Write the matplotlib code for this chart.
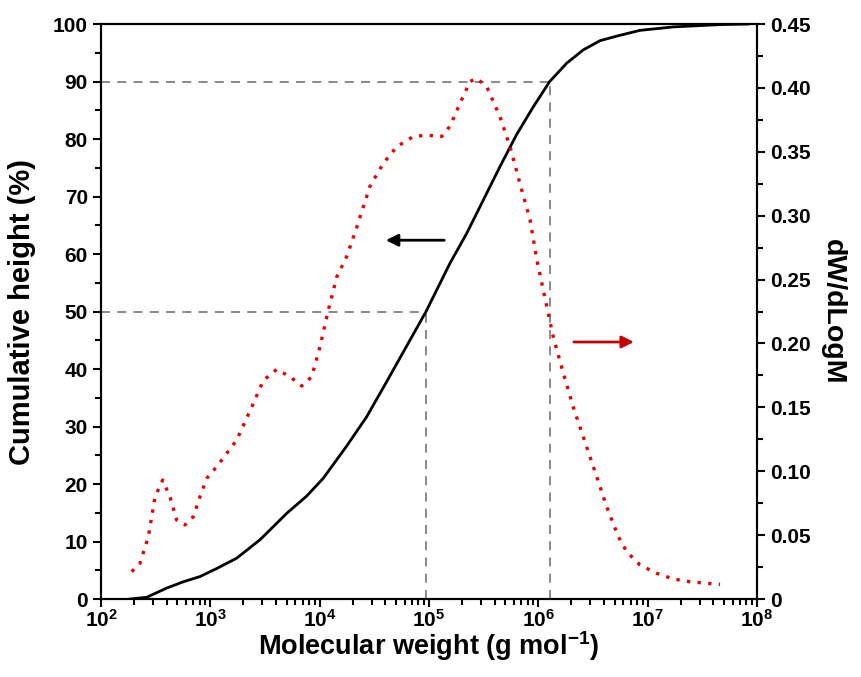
import numpy as np
import matplotlib
matplotlib.use("Agg")
import matplotlib.pyplot as plt
from matplotlib import ticker

plt.rcParams['font.family'] = ['Liberation Sans', 'DejaVu Sans']
plt.rcParams['font.weight'] = 'bold'
plt.rcParams['mathtext.fontset'] = 'custom'
plt.rcParams['mathtext.rm'] = 'Liberation Sans:bold'
plt.rcParams['mathtext.bf'] = 'Liberation Sans:bold'
plt.rcParams['mathtext.it'] = 'Liberation Sans:bold'

# cumulative curve (log10 M, %)
cum_logm = [2.265, 2.418, 2.601, 2.753, 2.905, 3.058, 3.241, 3.454, 3.699, 3.881,
            4.033, 4.247, 4.430, 4.613, 4.973, 5.192, 5.345, 5.497, 5.649, 5.802,
            5.954, 6.104, 6.260, 6.411, 6.564, 6.717, 6.93, 7.234, 7.66, 7.92]
cum_pct = [0, 0.3, 1.9, 3.0, 3.9, 5.3, 7.1, 10.3, 14.9, 17.9,
           21.0, 26.6, 31.7, 37.8, 50.0, 58.4, 63.6, 69.4, 75.2, 80.8,
           85.6, 90.0, 93.2, 95.5, 97.1, 97.9, 98.9, 99.5, 99.9, 100.0]

# distribution dW/dLogM (log10 M, value)
dist_logm = [2.281, 2.357, 2.433, 2.494, 2.564, 2.631, 2.692, 2.768, 2.844, 2.905,
             2.967, 3.058, 3.150, 3.241, 3.393, 3.484, 3.607, 3.729, 3.836, 3.927,
             4.003, 4.079, 4.156, 4.247, 4.339, 4.399, 4.460, 4.582, 4.705, 4.857,
             4.979, 5.116, 5.192, 5.284, 5.375, 5.436, 5.528, 5.649, 5.741, 5.832,
             5.924, 5.985, 6.077, 6.137, 6.229, 6.320, 6.442, 6.534, 6.625, 6.732,
             6.808, 6.930, 7.083, 7.234, 7.387, 7.540, 7.662]
dist_val = [0.0214, 0.028, 0.0488, 0.080, 0.0931, 0.080, 0.0618, 0.058, 0.0644, 0.080,
            0.0944, 0.1035, 0.114, 0.1244, 0.153, 0.171, 0.1797, 0.174, 0.1667, 0.174,
            0.1975, 0.226, 0.252, 0.268, 0.291, 0.307, 0.323, 0.341, 0.354, 0.362,
            0.363, 0.362, 0.370, 0.388, 0.405, 0.4075, 0.401, 0.3775, 0.354, 0.325,
            0.297, 0.266, 0.229, 0.205, 0.1766, 0.150, 0.119, 0.0957, 0.0722, 0.0488,
            0.037, 0.0266, 0.0201, 0.0157, 0.0135, 0.0123, 0.0115]

m50 = 9.4e4
m90 = 1.27e6

cum_m = 10 ** np.array(cum_logm)
dist_m = 10 ** np.array(dist_logm)

fig = plt.figure(figsize=(8.61, 6.77), dpi=100)
ax = fig.add_axes([0.1173, 0.1152, 0.7619, 0.8493])
ax2 = ax.twinx()

ax.plot(cum_m, cum_pct, color='black', lw=2.0, zorder=3)
ax2.plot(dist_m, dist_val, color='#E00000', lw=2.4, linestyle=(0, (1, 2.2)), zorder=3)

# guide lines
gl = dict(color='#808080', lw=1.3, linestyle=(0, (5, 4)), zorder=1)
ax.plot([1e2, m50], [50, 50], **gl)
ax.plot([m50, m50], [0, 50], **gl)
ax.plot([1e2, m90], [90, 90], **gl)
ax.plot([m90, m90], [0, 90], **gl)

ax.annotate('', xy=(10 ** 4.58, 62.4), xytext=(10 ** 5.165, 62.4),
            arrowprops=dict(arrowstyle='-|>', color='black', lw=2, mutation_scale=18))
ax.annotate('', xy=(10 ** 6.90, 44.7), xytext=(10 ** 6.30, 44.7),
            arrowprops=dict(arrowstyle='-|>', color='#C00000', lw=2, mutation_scale=18))

ax.set_xscale('log')
ax.set_xlim(1e2, 1e8)
ax.set_ylim(0, 100)
ax2.set_ylim(0, 0.45)

ax.xaxis.set_major_locator(ticker.LogLocator(base=10, numticks=10))
ax.xaxis.set_minor_locator(ticker.LogLocator(base=10, subs=np.arange(2, 10), numticks=20))
ax.xaxis.set_major_formatter(ticker.FuncFormatter(lambda v, p: r'$10^{%d}$' % round(np.log10(v))))
ax.xaxis.set_minor_formatter(ticker.NullFormatter())

ax.yaxis.set_major_locator(ticker.MultipleLocator(10))
ax.yaxis.set_minor_locator(ticker.MultipleLocator(5))
ax2.yaxis.set_major_locator(ticker.MultipleLocator(0.05))
ax2.yaxis.set_minor_locator(ticker.MultipleLocator(0.025))
ax2.yaxis.set_major_formatter(ticker.FuncFormatter(lambda v, p: '0' if abs(v) < 1e-9 else '%.2f' % v))

for a in (ax, ax2):
    for s in a.spines.values():
        s.set_linewidth(1.5)
    a.tick_params(which='major', direction='out', length=6, width=1.5, labelsize=15)
    a.tick_params(which='minor', direction='out', length=4, width=1.5)
ax.tick_params(axis='x', labelsize=15, pad=1)

ax.set_xlabel(r'Molecular weight (g mol$^{-1}$)', fontsize=19.5, fontweight='bold')
ax.set_ylabel('Cumulative height (%)', fontsize=21, fontweight='bold', va='center')
ax2.set_ylabel('dW/dLogM', fontsize=20.5, fontweight='bold', rotation=270, va='center')
ax.xaxis.set_label_coords(0.5, -0.052)
ax.yaxis.set_label_coords(-0.12, 0.5)
ax2.yaxis.set_label_coords(1.116, 0.5)

fig.savefig('out.png', dpi=100)
